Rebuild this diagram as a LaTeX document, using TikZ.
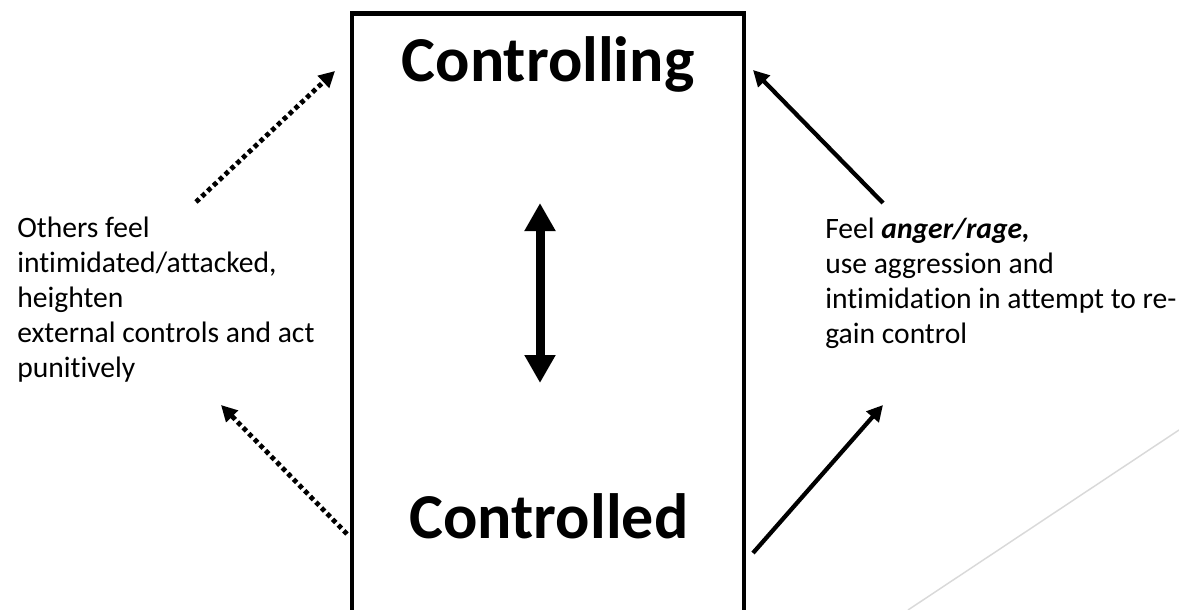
\documentclass[tikz,border=0pt]{standalone}
\usepackage{fontspec}
\setmainfont{Carlito}[Ligatures=NoCommon]
\usetikzlibrary{arrows.meta,positioning,calc}
\tikzset{
    state box/.style={
        rectangle,
        draw=black,
        line width=3.4pt,
        minimum width=294pt,
        minimum height=475pt,
        anchor=north,
        inner sep=0pt,
    },
    state label/.style={
        font=\fontsize{48}{52}\selectfont\bfseries,
        anchor=base,
        inner sep=0pt,
    },
    side text/.style={
        font=\fontsize{22.2}{26.25}\selectfont,
        align=left,
        anchor=base west,
        inner sep=0pt,
    },
    solid connector/.style={
        line width=3.2pt,
        -{Triangle[length=12pt,width=12pt]},
    },
    dotted connector/.style={
        solid connector,
        line width=3.6pt,
        dash pattern=on 3.4pt off 2.6pt,
    },
    swing/.style={
        line width=6.75pt,
        {Triangle[length=21pt,width=22pt]}-{Triangle[length=21pt,width=22pt]},
    },
    deco line/.style={
        draw=black!15,
        line width=1.1pt,
    },
}

\begin{document}
\begin{tikzpicture}[x=0.75pt,y=-0.75pt]
    \useasboundingbox (0,0) rectangle (1179,610);
    \node[state box] (frame) at (548,11) {};
    \node[state label] (top) at (548,82) {Controlling};
    \node[state label] (bottom) at (549,538) {Controlled};
    % placed by the baseline of the last line
    \node[side text] (others) at (17,377) {Others feel\\intimidated/attacked,\\heighten\\external controls and act\\punitively};
    \node[side text] (self) at (825,343) {Feel \textbf{\textit{anger/rage,}}\\use aggression and\\intimidation in attempt to re-\\gain control};
    % arrow ends
    \coordinate (lt0) at (196,202);
    \coordinate (lt1) at (335,71);
    \coordinate (lb0) at (347,534);
    \coordinate (lb1) at (221,405);
    \coordinate (rt0) at (883,203);
    \coordinate (rt1) at (753,70);
    \coordinate (rb0) at (753,553);
    \coordinate (rb1) at (883,405);
    \coordinate (sw0) at (540,203);
    \coordinate (sw1) at (540,383);
    \coordinate (d0) at (908,610);
    \coordinate (d1) at (1179,430);
    \draw[dotted connector] (lt0) -- (lt1);
    \draw[dotted connector] (lb0) -- (lb1);
    \draw[solid connector] (rt0) -- (rt1);
    \draw[solid connector] (rb0) -- (rb1);
    \draw[swing] (sw0) -- (sw1);
    \draw[deco line] (d0) -- (d1);
\end{tikzpicture}
\end{document}
